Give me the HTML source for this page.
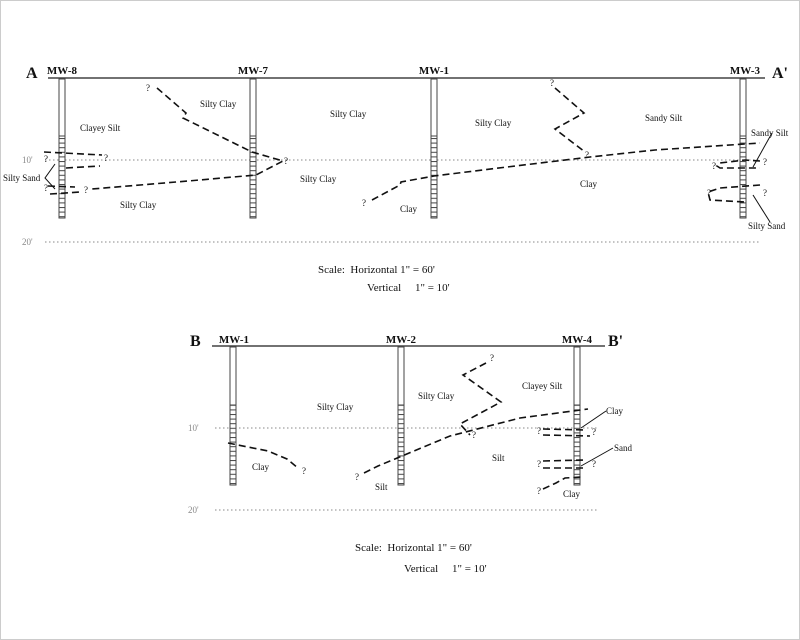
<!DOCTYPE html>
<html><head><meta charset="utf-8"><style>
html,body{margin:0;padding:0;background:#fff}
svg{display:block}
text{font-family:"Liberation Serif",serif;fill:#111}
.l{font-size:9px}
.b{font-size:11px;font-weight:bold}
.B{font-size:16px;font-weight:bold}
.d{stroke:#111;stroke-width:1.6;fill:none;stroke-dasharray:7 4}
.s{stroke:#111;stroke-width:1;fill:none}
.g{stroke:#888;stroke-width:1;stroke-dasharray:1.5 2.5}
.w{fill:#fff;stroke:#444;stroke-width:1}
.t{font-size:9px;fill:#888}
</style></head><body>
<svg width="800" height="640" viewBox="0 0 800 640" xmlns="http://www.w3.org/2000/svg">
<defs>
<pattern id="lad" width="6" height="4.6" patternUnits="userSpaceOnUse">
<line x1="0" y1="0.5" x2="6" y2="0.5" stroke="#444" stroke-width="1"/>
</pattern>
</defs>
<rect x="0.5" y="0.5" width="799" height="639" fill="none" stroke="#ccc"/>

<!-- Section A -->
<text x="26" y="78" class="B">A</text>
<text x="772" y="78" class="B">A'</text>
<line x1="48" y1="78" x2="765" y2="78" stroke="#444" stroke-width="1.5"/>
<line x1="45" y1="160" x2="760" y2="160" class="g"/>
<line x1="45" y1="242" x2="760" y2="242" class="g"/>
<text x="22" y="163" class="t">10'</text>
<text x="22" y="245" class="t">20'</text>
<text x="62" y="74" class="b" text-anchor="middle">MW-8</text>
<text x="253" y="74" class="b" text-anchor="middle">MW-7</text>
<text x="434" y="74" class="b" text-anchor="middle">MW-1</text>
<text x="745" y="74" class="b" text-anchor="middle">MW-3</text>
<g>
<rect x="59" y="79" width="6" height="139" class="w"/><rect x="59" y="136" width="6" height="82" fill="url(#lad)" stroke="#444"/>
<rect x="250" y="79" width="6" height="139" class="w"/><rect x="250" y="136" width="6" height="82" fill="url(#lad)" stroke="#444"/>
<rect x="431" y="79" width="6" height="139" class="w"/><rect x="431" y="136" width="6" height="82" fill="url(#lad)" stroke="#444"/>
<rect x="740" y="79" width="6" height="139" class="w"/><rect x="740" y="136" width="6" height="82" fill="url(#lad)" stroke="#444"/>
</g>
<polyline class="d" points="157,88 186,113 183,118 252,152 283,161 256,175 188,181 92,189"/>
<line class="d" x1="44" y1="152" x2="102" y2="155"/>
<line class="d" x1="66" y1="168" x2="100" y2="166"/>
<line class="d" x1="48" y1="186" x2="75" y2="187"/>
<line class="d" x1="50" y1="194" x2="80" y2="192"/>
<polyline class="s" points="55,164 45,178 55,189"/>
<polyline class="d" points="372,200 400,185 401,182 434,176 507,167 590,157 655,150 760,143"/>
<polyline class="d" points="555,88 584,113 555,129 585,152"/>
<polyline class="d" points="760,161 745,160 720,163 717,166 720,168 760,168"/>
<polyline class="d" points="760,185 720,188 708,192 710,200 745,202"/>
<line class="s" x1="772" y1="133" x2="753" y2="167"/>
<line class="s" x1="770" y1="222" x2="753" y2="195"/>
<g class="l">
<text x="146" y="91">?</text><text x="104" y="161">?</text><text x="284" y="164">?</text>
<text x="44" y="162">?</text><text x="44" y="191">?</text><text x="84" y="193">?</text>
<text x="362" y="206">?</text><text x="550" y="86">?</text><text x="585" y="158">?</text>
<text x="712" y="169">?</text><text x="763" y="165">?</text><text x="707" y="196">?</text><text x="763" y="196">?</text>
<text x="80" y="131">Clayey Silt</text><text x="200" y="107">Silty Clay</text><text x="330" y="117">Silty Clay</text>
<text x="475" y="126">Silty Clay</text><text x="645" y="121">Sandy Silt</text><text x="300" y="182">Silty Clay</text>
<text x="120" y="208">Silty Clay</text><text x="400" y="212">Clay</text><text x="580" y="187">Clay</text>
<text x="3" y="181">Silty Sand</text><text x="751" y="136">Sandy Silt</text><text x="748" y="229">Silty Sand</text>
</g>
<text x="318" y="273" font-size="11" xml:space="preserve">Scale:  Horizontal 1" = 60'</text>
<text x="367" y="291" font-size="11" xml:space="preserve">Vertical     1" = 10'</text>

<!-- Section B -->
<text x="190" y="346" class="B">B</text>
<text x="608" y="346" class="B">B'</text>
<line x1="212" y1="346" x2="605" y2="346" stroke="#444" stroke-width="1.5"/>
<line x1="215" y1="428" x2="598" y2="428" class="g"/>
<line x1="215" y1="510" x2="598" y2="510" class="g"/>
<text x="188" y="431" class="t">10'</text>
<text x="188" y="513" class="t">20'</text>
<text x="234" y="343" class="b" text-anchor="middle">MW-1</text>
<text x="401" y="343" class="b" text-anchor="middle">MW-2</text>
<text x="577" y="343" class="b" text-anchor="middle">MW-4</text>
<rect x="230" y="347" width="6" height="138" class="w"/><rect x="230" y="405" width="6" height="80" fill="url(#lad)" stroke="#444"/>
<rect x="398" y="347" width="6" height="138" class="w"/><rect x="398" y="405" width="6" height="80" fill="url(#lad)" stroke="#444"/>
<rect x="574" y="347" width="6" height="138" class="w"/><rect x="574" y="405" width="6" height="80" fill="url(#lad)" stroke="#444"/>
<polyline class="d" points="228,443 268,451 287,459 298,468"/>
<polyline class="d" points="364,473 378,466 450,436 520,418 588,409"/>
<polyline class="d" points="486,363 463,375 501,402 460,424 470,435"/>
<line class="d" x1="543" y1="429" x2="587" y2="430"/>
<line class="d" x1="543" y1="435" x2="590" y2="436"/>
<line class="d" x1="543" y1="461" x2="585" y2="460"/>
<line class="d" x1="543" y1="468" x2="585" y2="468"/>
<polyline class="d" points="543,489 556,483 565,478 582,477"/>
<line class="s" x1="581" y1="428" x2="606" y2="411"/>
<line class="s" x1="581" y1="466" x2="613" y2="448"/>
<g class="l">
<text x="302" y="474">?</text><text x="355" y="480">?</text><text x="490" y="361">?</text><text x="472" y="438">?</text>
<text x="537" y="434">?</text><text x="592" y="435">?</text><text x="537" y="467">?</text><text x="592" y="467">?</text><text x="537" y="494">?</text>
<text x="317" y="410">Silty Clay</text><text x="418" y="399">Silty Clay</text><text x="522" y="389">Clayey Silt</text>
<text x="252" y="470">Clay</text><text x="492" y="461">Silt</text><text x="375" y="490">Silt</text><text x="563" y="497">Clay</text>
<text x="606" y="414">Clay</text><text x="614" y="451">Sand</text>
</g>
<text x="355" y="551" font-size="11" xml:space="preserve">Scale:  Horizontal 1" = 60'</text>
<text x="404" y="572" font-size="11" xml:space="preserve">Vertical     1" = 10'</text>
</svg>
</body></html>
